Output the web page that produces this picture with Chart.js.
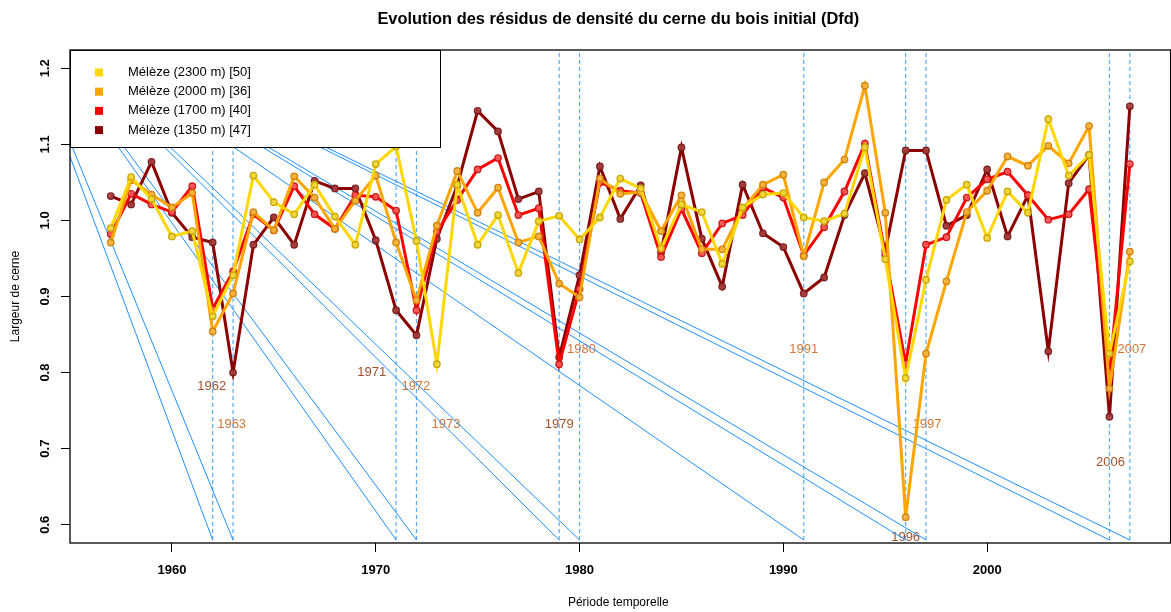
<!DOCTYPE html>
<html>
<head>
<meta charset="utf-8">
<script src="https://cdn.jsdelivr.net/npm/chart.js@4/dist/chart.umd.min.js"></script>
<style>
  html, body { margin: 0; padding: 0; overflow: hidden; background: #ffffff; }
  canvas { display: block; }
</style>
</head>
<body>
<canvas id="chart" width="1176" height="612"></canvas>
<script>
// Years of the ring series
const years = [1957, 1958, 1959, 1960, 1961, 1962, 1963, 1964, 1965, 1966,
               1967, 1968, 1969, 1970, 1971, 1972, 1973, 1974, 1975, 1976,
               1977, 1978, 1979, 1980, 1981, 1982, 1983, 1984, 1985, 1986,
               1987, 1988, 1989, 1990, 1991, 1992, 1993, 1994, 1995, 1996,
               1997, 1998, 1999, 2000, 2001, 2002, 2003, 2004, 2005, 2006, 2007];

// Density residuals per site (earlywood, Dfd)
const larch2300 = [0.990, 1.057, 1.028, 0.979, 0.986, 0.874, 0.928, 1.059, 1.024, 1.008,
                   1.047, 1.005, 0.968, 1.074, 1.097, 0.973, 0.811, 1.047, 0.968, 1.007,
                   0.931, 0.999, 1.006, 0.975, 1.004, 1.055, 1.042, 0.963, 1.021, 1.011,
                   0.943, 1.017, 1.034, 1.036, 1.004, 0.999, 1.009, 1.096, 0.949, 0.793,
                   0.922, 1.027, 1.047, 0.977, 1.038, 1.010, 1.133, 1.059, 1.086, 0.825, 0.946];
const larch2000 = [0.971, 1.053, 1.034, 1.017, 1.036, 0.854, 0.904, 1.011, 0.987, 1.058,
                   1.030, 0.989, 1.026, 1.059, 0.971, 0.895, 0.993, 1.065, 1.010, 1.043,
                   0.971, 0.979, 0.917, 0.899, 1.055, 1.035, 1.037, 0.986, 1.033, 0.962,
                   0.962, 1.015, 1.047, 1.060, 0.953, 1.050, 1.080, 1.177, 1.010, 0.610,
                   0.825, 0.920, 1.011, 1.039, 1.084, 1.072, 1.098, 1.075, 1.124, 0.779, 0.959];
const larch1700 = [0.982, 1.035, 1.021, 1.011, 1.045, 0.884, 0.933, 1.008, 0.987, 1.045,
                   1.008, 0.989, 1.033, 1.031, 1.013, 0.882, 0.985, 1.027, 1.067, 1.082,
                   1.007, 1.016, 0.811, 0.910, 1.050, 1.039, 1.036, 0.952, 1.015, 0.957,
                   0.996, 1.007, 1.043, 1.030, 0.954, 0.991, 1.038, 1.101, 0.955, 0.812,
                   0.968, 0.978, 1.030, 1.054, 1.064, 1.033, 1.001, 1.008, 1.041, 0.800, 1.074];
const larch1350 = [1.032, 1.021, 1.077, 1.010, 0.978, 0.971, 0.800, 0.968, 1.004, 0.968,
                   1.052, 1.042, 1.042, 0.974, 0.882, 0.849, 0.976, 1.046, 1.144, 1.117,
                   1.028, 1.038, 0.820, 0.928, 1.071, 1.002, 1.046, 0.958, 1.096, 0.976,
                   0.913, 1.047, 0.983, 0.965, 0.904, 0.925, 1.007, 1.062, 0.960, 1.092,
                   1.092, 0.993, 1.007, 1.067, 0.979, 1.033, 0.828, 1.049, 1.086, 0.742, 1.150];

const seriesNames = ['Mélèze (2300 m) [50]', 'Mélèze (2000 m) [36]',
                     'Mélèze (1700 m) [40]', 'Mélèze (1350 m) [47]'];

// Marker years (vertical guides and rays)
const markerYears = [1962, 1963, 1971, 1972, 1979, 1980, 1991, 1996, 1997, 2006, 2007];
const rayOrigin = { x: 1952, y: 1.3 };
const guideBottom = 0.58;
const guideTop = 1.3;

// Year annotations: text, x, y, tone (0 = brown, 1 = orange)
const noteText = ['1962', '1963', '1971', '1972', '1973', '1979', '1980', '1991', '1996', '1997', '2006', '2007'];
const noteX    = [1961.95, 1962.93, 1969.8, 1971.97, 1973.45, 1979.0, 1980.1, 1991.0, 1996.0, 1997.05, 2006.05, 2007.1];
const noteY    = [0.782, 0.732, 0.800, 0.782, 0.732, 0.732, 0.830, 0.830, 0.583, 0.732, 0.682, 0.830];
const noteTone = [0, 1, 0, 1, 1, 0, 1, 1, 0, 1, 0, 1];

// Axis ticks
const xTicks = [1960, 1970, 1980, 1990, 2000];
const yTicks = [0.6, 0.7, 0.8, 0.9, 1.0, 1.1, 1.2];

const FONT = "'Liberation Sans', Arial, Helvetica, sans-serif";
const lineColors   = ['#FFD700', '#FFA500', '#FF0000', '#8B0000'];
const markerEdge   = ['rgba(200,165,0,0.95)', 'rgba(205,130,10,0.95)', 'rgba(200,20,20,0.95)', 'rgba(120,30,30,0.95)'];
const markerFill   = ['rgba(240,215,60,0.9)', 'rgba(250,180,60,0.9)', 'rgba(255,90,90,0.9)', 'rgba(170,60,60,0.9)'];
const noteColors   = ['#A0522D', '#D2783C'];

const allSeries = [larch2300, larch2000, larch1700, larch1350];

const datasets = allSeries.map((vals, i) => ({
  label: seriesNames[i],
  data: years.map((yr, k) => ({ x: yr, y: vals[k] })),
  borderColor: lineColors[i],
  borderWidth: 3,
  pointRadius: 3.2,
  pointBorderWidth: 1.4,
  pointBorderColor: markerEdge[i],
  pointBackgroundColor: markerFill[i],
  tension: 0,
  order: i
}));

markerYears.forEach((yr, i) => {
  datasets.push({
    label: 'ray' + yr,
    data: [{ x: rayOrigin.x, y: rayOrigin.y }, { x: yr, y: guideBottom }],
    borderColor: '#1E90FF',
    borderWidth: 1,
    pointRadius: 0,
    order: 20 + i
  });
  datasets.push({
    label: 'guide' + yr,
    data: [{ x: yr, y: guideBottom }, { x: yr, y: guideTop }],
    borderColor: '#5AAAF5',
    borderWidth: 1.2,
    borderDash: [4, 3],
    pointRadius: 0,
    order: 40 + i
  });
});

const decorations = {
  id: 'decorations',
  beforeDatasetsDraw(chart) {
    const { ctx, chartArea: a, scales: { x, y } } = chart;
    ctx.save();
    ctx.beginPath();
    ctx.rect(a.left, a.top, a.right - a.left, a.bottom - a.top);
    ctx.clip();
    ctx.font = `13px ${FONT}`;
    ctx.textAlign = 'center';
    ctx.textBaseline = 'middle';
    noteText.forEach((t, i) => {
      ctx.fillStyle = noteColors[noteTone[i]];
      ctx.fillText(t, x.getPixelForValue(noteX[i]), y.getPixelForValue(noteY[i]));
    });
    ctx.restore();
  },
  afterDatasetsDraw(chart) {
    const { ctx, chartArea: a } = chart;
    ctx.save();
    // legend box
    const lx = a.left, ly = a.top, lw = 370, lh = 97;
    ctx.fillStyle = '#ffffff';
    ctx.fillRect(lx, ly, lw, lh);
    ctx.strokeStyle = '#000000';
    ctx.lineWidth = 1;
    ctx.strokeRect(lx + 0.5, ly + 0.5, lw, lh);
    ctx.font = `13px ${FONT}`;
    ctx.textAlign = 'left';
    ctx.textBaseline = 'middle';
    seriesNames.forEach((name, i) => {
      const cy = ly + 22.5 + i * 19.2;
      ctx.fillStyle = lineColors[i];
      ctx.fillRect(lx + 25, cy - 4, 8, 8);
      ctx.fillStyle = '#000000';
      ctx.fillText(name, lx + 58, cy);
    });
    // plot frame
    ctx.lineWidth = 1.3;
    ctx.strokeStyle = '#000000';
    ctx.strokeRect(a.left, a.top, a.right - a.left, a.bottom - a.top);
    ctx.restore();
  },
  afterDraw(chart) {
    const { ctx, chartArea: a, scales: { y } } = chart;
    ctx.save();
    ctx.fillStyle = '#000000';
    ctx.textAlign = 'center';
    ctx.textBaseline = 'middle';
    const cx = (a.left + a.right) / 2 - 2;
    ctx.font = `bold 16.4px ${FONT}`;
    ctx.fillText('Evolution des résidus de densité du cerne du bois initial (Dfd)', cx, 19);
    ctx.font = `12px ${FONT}`;
    ctx.fillText('Période temporelle', cx, 603);
    // y tick labels, written along the axis
    ctx.font = `bold 13px ${FONT}`;
    y.ticks.forEach(t => {
      ctx.save();
      ctx.translate(45, y.getPixelForValue(t.value));
      ctx.rotate(-Math.PI / 2);
      ctx.fillText(t.value.toFixed(1), 0, 0);
      ctx.restore();
    });
    ctx.font = `12px ${FONT}`;
    ctx.translate(16, (a.top + a.bottom) / 2);
    ctx.rotate(-Math.PI / 2);
    ctx.fillText('Largeur de cerne', 0, 0);
    ctx.restore();
  }
};

new Chart(document.getElementById('chart'), {
  type: 'line',
  data: { datasets },
  options: {
    responsive: false,
    animation: false,
    devicePixelRatio: 1,
    layout: { padding: { top: 50, left: 0, right: 0, bottom: 0 } },
    plugins: { legend: { display: false }, tooltip: { enabled: false }, title: { display: false } },
    events: [],
    scales: {
      x: {
        type: 'linear',
        min: 1955,
        max: 2009,
        afterBuildTicks: s => { s.ticks = xTicks.map(v => ({ value: v })); },
        afterFit: s => { s.height = 69; },
        grid: { drawOnChartArea: false, drawTicks: true, tickLength: 9, color: '#000000', lineWidth: 1 },
        border: { display: false },
        ticks: {
          color: '#000000',
          font: { family: FONT, size: 13, weight: 'bold' },
          padding: 11,
          minRotation: 0,
          maxRotation: 0,
          callback: v => String(v)
        }
      },
      y: {
        type: 'linear',
        min: 0.576,
        max: 1.224,
        afterBuildTicks: s => { s.ticks = yTicks.map(v => ({ value: v })); },
        afterFit: s => { s.width = 70; },
        grid: { drawOnChartArea: false, drawTicks: true, tickLength: 9, color: '#000000', lineWidth: 1 },
        border: { display: false },
        ticks: { display: false }
      }
    }
  },
  plugins: [decorations]
});
</script>
</body>
</html>
